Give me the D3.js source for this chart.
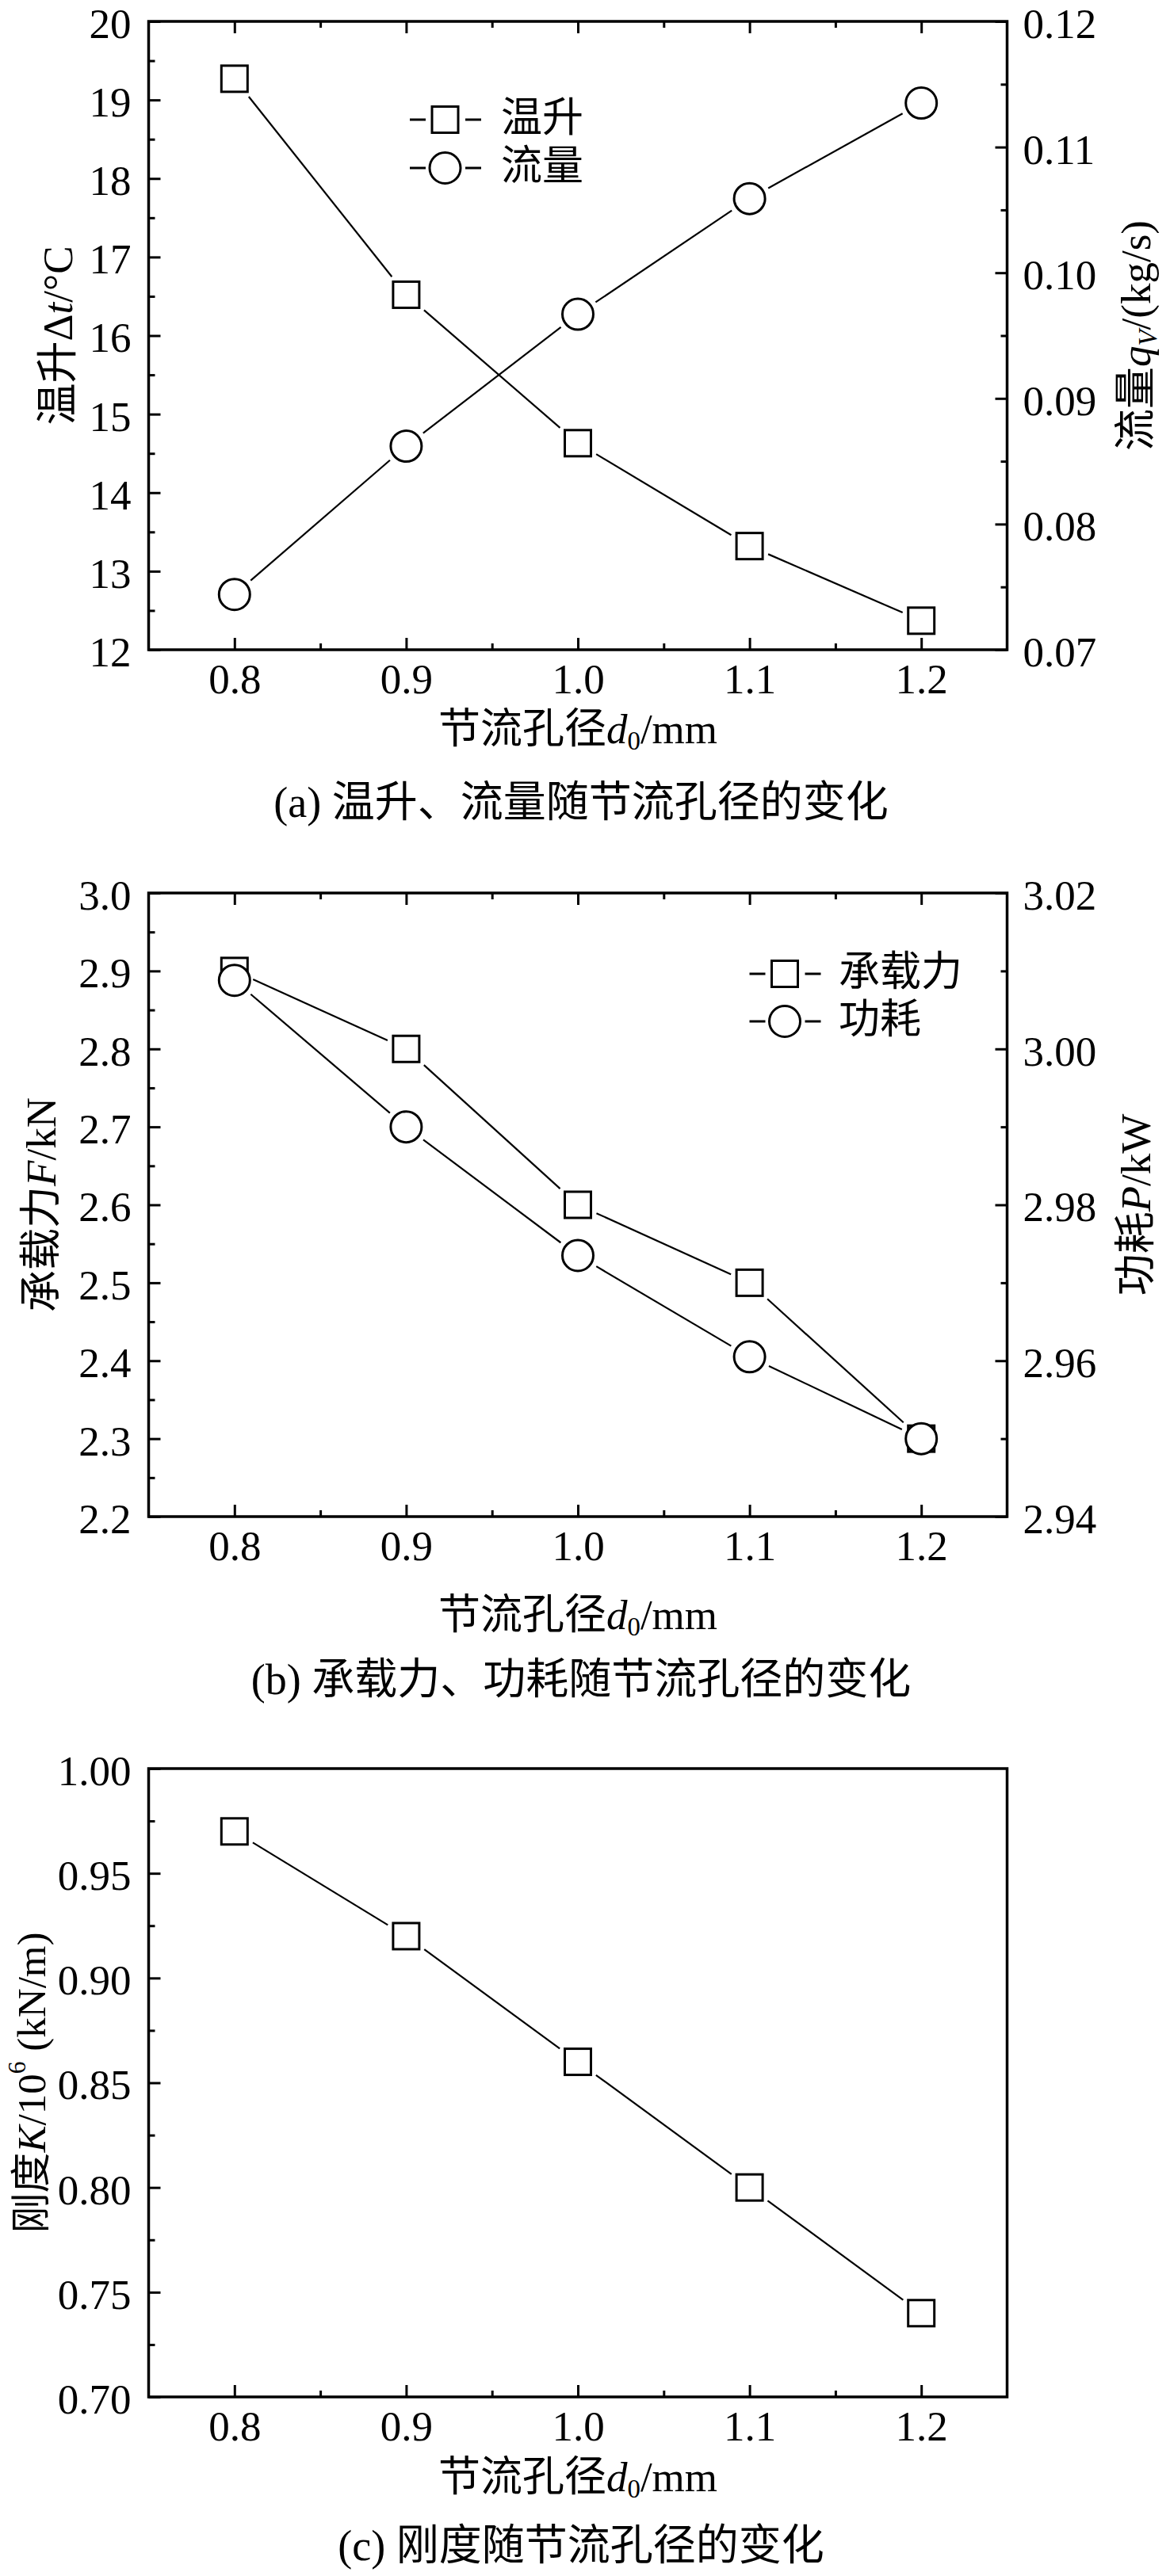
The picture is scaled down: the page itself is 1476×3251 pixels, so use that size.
<!DOCTYPE html>
<html>
<head>
<meta charset="utf-8">
<script src="https://cdn.jsdelivr.net/npm/d3@7"></script>
<style>
  html, body { margin: 0; padding: 0; background: #fff; }
  svg { display: block; }
</style>
</head>
<body>
<script>
// ---------------- data ----------------
const xTicks = [0.8, 0.9, 1.0, 1.1, 1.2];
const xMinor = [0.85, 0.95, 1.05, 1.15];
const xValues = [0.8, 0.9, 1.0, 1.1, 1.2];

// (a) 温升 / 流量
const tempRise = [19.27, 16.52, 14.63, 13.32, 12.37];
const flowRate = [0.0744, 0.0862, 0.0967, 0.1059, 0.1135];
const aLeftTicks = [12, 13, 14, 15, 16, 17, 18, 19, 20];
const aLeftMinor = [12.5, 13.5, 14.5, 15.5, 16.5, 17.5, 18.5, 19.5];
const aRightTicks = [0.07, 0.08, 0.09, 0.10, 0.11, 0.12];
const aRightMinor = [0.075, 0.085, 0.095, 0.105, 0.115];

// (b) 承载力 / 功耗
const loadCap = [2.9, 2.8, 2.6, 2.5, 2.3];
const powerLoss = [3.0088, 2.990, 2.9735, 2.9605, 2.950];
const bLeftTicks = [2.2, 2.3, 2.4, 2.5, 2.6, 2.7, 2.8, 2.9, 3.0];
const bLeftMinor = [2.25, 2.35, 2.45, 2.55, 2.65, 2.75, 2.85, 2.95];
const bRightTicks = [2.94, 2.96, 2.98, 3.00, 3.02];
const bRightMinor = [2.95, 2.97, 2.99, 3.01];

// (c) 刚度
const stiffness = [0.97, 0.92, 0.86, 0.80, 0.74];
const cLeftTicks = [0.70, 0.75, 0.80, 0.85, 0.90, 0.95, 1.00];
const cLeftMinor = [0.725, 0.775, 0.825, 0.875, 0.925, 0.975];

// ---------------- layout ----------------
const W = 1476, H = 3251;
const L = 187.5, R = 1270.5;
const LATIN = "'Liberation Serif', 'Times New Roman', serif";
const MIXED = "'Liberation Serif', 'Noto Sans CJK SC', serif";
const TICK_FS = 53, LABEL_FS = 53;
const SQ = 33, CR = 19.5;

const svg = d3.select("body").append("svg")
  .attr("width", W).attr("height", H)
  .attr("viewBox", `0 0 ${W} ${H}`);
svg.append("rect").attr("width", W).attr("height", H).attr("fill", "#fff");

const x = d3.scaleLinear().domain([0.75, 1.25]).range([L, R]);

function styleAxis(g, vertical) {
  g.select(".domain").remove();
  g.attr("font-family", LATIN).attr("font-size", TICK_FS);
  g.selectAll(".tick line").attr("stroke", "#000").attr("stroke-width", 3);
  g.selectAll(".tick text").attr("fill", "#000");
  if (vertical) g.selectAll(".tick text").attr("dy", "0.385em");
}

function addAxis(parent, axis, tr, vertical) {
  const g = parent.append("g").attr("transform", tr).call(axis);
  styleAxis(g, vertical);
  return g;
}

function segTrim(p1, p2, r1, r2) {
  const dx = p2[0] - p1[0], dy = p2[1] - p1[1];
  const len = Math.hypot(dx, dy);
  const ux = dx / len, uy = dy / len;
  const d1 = r1(ux, uy), d2 = r2(ux, uy);
  if (d1 + d2 >= len) return null;
  return [[p1[0] + ux * d1, p1[1] + uy * d1], [p2[0] - ux * d2, p2[1] - uy * d2]];
}
const GAP = 6;
const sqR = (ux, uy) => (SQ / 2 + 1.5) / Math.max(Math.abs(ux), Math.abs(uy)) + GAP;
const ciR = () => CR + 1.5 + GAP;

function drawSeries(g, xs, ys, yScale, shape) {
  const pts = xs.map((v, i) => [x(v), yScale(ys[i])]);
  const rf = shape === "square" ? sqR : ciR;
  const line = d3.line();
  for (let i = 0; i < pts.length - 1; i++) {
    const s = segTrim(pts[i], pts[i + 1], rf, rf);
    if (s) g.append("path").attr("d", line(s)).attr("fill", "none")
      .attr("stroke", "#000").attr("stroke-width", 2.2);
  }
  return pts;
}

function drawMarkers(g, pts, shape) {
  if (shape === "square") {
    g.selectAll(null).data(pts).enter().append("rect")
      .attr("x", d => d[0] - SQ / 2).attr("y", d => d[1] - SQ / 2)
      .attr("width", SQ).attr("height", SQ)
      .attr("fill", "#fff").attr("stroke", "#000").attr("stroke-width", 3);
  } else {
    g.selectAll(null).data(pts).enter().append("circle")
      .attr("cx", d => d[0]).attr("cy", d => d[1]).attr("r", CR)
      .attr("fill", "#fff").attr("stroke", "#000").attr("stroke-width", 3);
  }
}

function legendItem(g, cx, cy, shape, label, tx) {
  g.append("line").attr("x1", cx - 44.5).attr("x2", cx - 24.5).attr("y1", cy).attr("y2", cy)
    .attr("stroke", "#000").attr("stroke-width", 3);
  g.append("line").attr("x1", cx + 25.5).attr("x2", cx + 45.5).attr("y1", cy).attr("y2", cy)
    .attr("stroke", "#000").attr("stroke-width", 3);
  drawMarkers(g, [[cx, cy]], shape);
  g.append("text").attr("x", tx).attr("y", cy - 3).attr("dominant-baseline", "central")
    .attr("font-family", MIXED).attr("font-size", 52).text(label);
}

// rich text helper: parts = [{t, it, sub, sup}]
function richText(g, xPos, yPos, parts, rotate, fs) {
  const t = g.append("text")
    .attr("text-anchor", "middle")
    .attr("dominant-baseline", "central")
    .attr("font-family", MIXED).attr("font-size", fs)
    .attr("transform", rotate ? `translate(${xPos},${yPos}) rotate(-90)` : `translate(${xPos},${yPos})`);
  let shift = 0;
  parts.forEach(p => {
    const s = t.append("tspan").text(p.t);
    let target = 0;
    if (p.sub) target = 0.28 * fs;
    if (p.sup) target = -0.38 * fs;
    if (target !== shift) { s.attr("dy", target - shift); shift = target; }
    if (p.it) s.attr("font-style", "italic");
    if (p.sub || p.sup) s.attr("font-size", fs * 0.62);
  });
  return t;
}

function xLabel(g, y) {
  richText(g, (L + R) / 2, y, [
    { t: "节流孔径" }, { t: "d", it: true }, { t: "0", sub: true }, { t: "/mm" }
  ], false, LABEL_FS);
}

function caption(g, y, txt) {
  g.append("text").attr("x", (L + R) / 2 + 4).attr("y", y)
    .attr("text-anchor", "middle").attr("dominant-baseline", "central")
    .attr("font-family", MIXED).attr("font-size", 54).text(txt);
}

function frame(g, T, B) {
  g.append("rect").attr("x", L).attr("y", T).attr("width", R - L).attr("height", B - T)
    .attr("fill", "none").attr("stroke", "#000").attr("stroke-width", 3.5);
}

function xAxes(g, T, B, withTop) {
  addAxis(g, d3.axisBottom(x).tickValues(xTicks).tickSize(-15).tickPadding(17).tickFormat(d3.format(".1f")), `translate(0,${B})`);
  addAxis(g, d3.axisBottom(x).tickValues(xMinor).tickSize(-8).tickFormat(""), `translate(0,${B})`);
  if (withTop) {
    addAxis(g, d3.axisTop(x).tickValues(xTicks).tickSize(-15).tickFormat(""), `translate(0,${T})`);
    addAxis(g, d3.axisTop(x).tickValues(xMinor).tickSize(-8).tickFormat(""), `translate(0,${T})`);
  }
}

// ================= (a) =================
(function () {
  const T = 27, B = 820;
  const g = svg.append("g");
  const yL = d3.scaleLinear().domain([12, 20]).range([B, T]);
  const yR = d3.scaleLinear().domain([0.07, 0.12]).range([B, T]);
  xAxes(g, T, B, true);
  addAxis(g, d3.axisLeft(yL).tickValues(aLeftTicks).tickSize(-15).tickPadding(22).tickFormat(d3.format("d")), `translate(${L},0)`, true);
  addAxis(g, d3.axisLeft(yL).tickValues(aLeftMinor).tickSize(-8).tickFormat(""), `translate(${L},0)`, true);
  addAxis(g, d3.axisRight(yR).tickValues(aRightTicks).tickSize(-15).tickPadding(20).tickFormat(d3.format(".2f")), `translate(${R},0)`, true);
  addAxis(g, d3.axisRight(yR).tickValues(aRightMinor).tickSize(-8).tickFormat(""), `translate(${R},0)`, true);
  frame(g, T, B);
  const p1 = drawSeries(g, xValues, tempRise, yL, "square");
  const p2 = drawSeries(g, xValues, flowRate, yR, "circle");
  drawMarkers(g, p1, "square");
  drawMarkers(g, p2, "circle");
  legendItem(g, 561.5, 151, "square", "温升", 632);
  legendItem(g, 561.5, 212, "circle", "流量", 632);
  richText(g, 73, (T + B) / 2, [{ t: "温升Δ" }, { t: "t", it: true }, { t: "/°C" }], true, LABEL_FS);
  richText(g, 1433, (T + B) / 2, [{ t: "流量" }, { t: "q", it: true }, { t: "V", it: true, sub: true }, { t: "/(kg/s)" }], true, LABEL_FS);
  xLabel(g, 920);
  caption(g, 1013, "(a) 温升、流量随节流孔径的变化");
})();

// ================= (b) =================
(function () {
  const T = 1127, B = 1914;
  const g = svg.append("g");
  const yL = d3.scaleLinear().domain([2.2, 3.0]).range([B, T]);
  const yR = d3.scaleLinear().domain([2.94, 3.02]).range([B, T]);
  xAxes(g, T, B, true);
  addAxis(g, d3.axisLeft(yL).tickValues(bLeftTicks).tickSize(-15).tickPadding(22).tickFormat(d3.format(".1f")), `translate(${L},0)`, true);
  addAxis(g, d3.axisLeft(yL).tickValues(bLeftMinor).tickSize(-8).tickFormat(""), `translate(${L},0)`, true);
  addAxis(g, d3.axisRight(yR).tickValues(bRightTicks).tickSize(-15).tickPadding(20).tickFormat(d3.format(".2f")), `translate(${R},0)`, true);
  addAxis(g, d3.axisRight(yR).tickValues(bRightMinor).tickSize(-8).tickFormat(""), `translate(${R},0)`, true);
  frame(g, T, B);
  const p1 = drawSeries(g, xValues, loadCap, yL, "square");
  const p2 = drawSeries(g, xValues, powerLoss, yR, "circle");
  drawMarkers(g, p1, "square");
  drawMarkers(g, p2, "circle");
  legendItem(g, 990, 1229, "square", "承载力", 1058);
  legendItem(g, 990, 1289, "circle", "功耗", 1058);
  richText(g, 52, (T + B) / 2, [{ t: "承载力" }, { t: "F", it: true }, { t: "/kN" }], true, LABEL_FS);
  richText(g, 1433, (T + B) / 2, [{ t: "功耗" }, { t: "P", it: true }, { t: "/kW" }], true, LABEL_FS);
  xLabel(g, 2038);
  caption(g, 2120, "(b) 承载力、功耗随节流孔径的变化");
})();

// ================= (c) =================
(function () {
  const T = 2232, B = 3025;
  const g = svg.append("g");
  const yL = d3.scaleLinear().domain([0.70, 1.00]).range([B, T]);
  xAxes(g, T, B, false);
  addAxis(g, d3.axisLeft(yL).tickValues(cLeftTicks).tickSize(-15).tickPadding(22).tickFormat(d3.format(".2f")), `translate(${L},0)`, true);
  addAxis(g, d3.axisLeft(yL).tickValues(cLeftMinor).tickSize(-8).tickFormat(""), `translate(${L},0)`, true);
  frame(g, T, B);
  const p1 = drawSeries(g, xValues, stiffness, yL, "square");
  drawMarkers(g, p1, "square");
  richText(g, 40, (T + B) / 2, [{ t: "刚度" }, { t: "K", it: true }, { t: "/10" }, { t: "6", sup: true }, { t: " (kN/m)" }], true, 51);
  xLabel(g, 3126);
  caption(g, 3213, "(c) 刚度随节流孔径的变化");
})();
</script>
</body>
</html>
